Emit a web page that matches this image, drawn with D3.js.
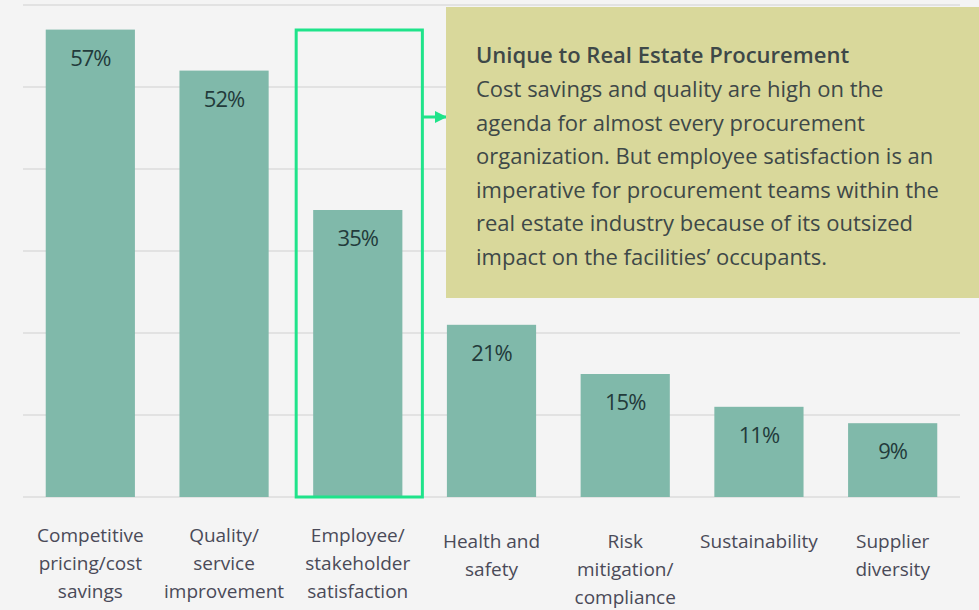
<!DOCTYPE html>
<html>
<head>
<meta charset="utf-8">
<script src="https://cdn.jsdelivr.net/npm/d3@7"></script>
<style>
  html, body { margin: 0; padding: 0; background: #f4f4f4; }
  svg { display: block; font-family: "Open Sans", Lato, sans-serif; }
</style>
</head>
<body>
<div id="chart-container"></div>
<script>
const categories = [
  ["Competitive", "pricing/cost", "savings"],
  ["Quality/", "service", "improvement"],
  ["Employee/", "stakeholder", "satisfaction"],
  ["Health and", "safety"],
  ["Risk", "mitigation/", "compliance"],
  ["Sustainability"],
  ["Supplier", "diversity"]
];
const values = [57, 52, 35, 21, 15, 11, 9];
const gridTicks = [0, 10, 20, 30, 40, 50, 60];
const highlightIndex = 2;
const noteTitle = "Unique to Real Estate Procurement";
const noteLines = [
  "Cost savings and quality are high on the",
  "agenda for almost every procurement",
  "organization. But employee satisfaction is an",
  "imperative for procurement teams within the",
  "real estate industry because of its outsized",
  "impact on the facilities\u2019 occupants."
];

const render = () => {
  const width = 979;
  const height = 610;
  const svg = d3.select("#chart-container").append("svg")
    .attr("width", width)
    .attr("height", height);

  svg.append("rect").attr("width", width).attr("height", height).attr("fill", "#f4f4f4");

  const x = d3.scaleBand()
    .domain(d3.range(values.length))
    .range([23, 960])
    .paddingInner(0.333)
    .paddingOuter(0.17);

  const y = d3.scaleLinear().domain([0, 60]).range([497, 5]);

  // grid
  svg.append("g")
    .selectAll("line")
    .data(gridTicks)
    .join("line")
    .attr("x1", 23)
    .attr("x2", 960)
    .attr("y1", (d) => y(d))
    .attr("y2", (d) => y(d))
    .attr("stroke", "#dddddd")
    .attr("stroke-width", 1.5);

  // bars
  svg.append("g")
    .selectAll("rect")
    .data(values)
    .join("rect")
    .attr("x", (d, i) => x(i))
    .attr("width", x.bandwidth())
    .attr("y", (d) => y(d))
    .attr("height", (d) => y(0) - y(d))
    .attr("fill", "#80b9aa");

  // value labels
  svg.append("g")
    .selectAll("text")
    .data(values)
    .join("text")
    .attr("x", (d, i) => x(i) + x.bandwidth() / 2)
    .attr("y", (d) => y(d) + 36)
    .attr("text-anchor", "middle")
    .attr("font-size", 22)
    .attr("letter-spacing", -1)
    .attr("fill", "#233b3b")
    .text((d) => d + "%");

  // category labels
  const cat = svg.append("g")
    .selectAll("text")
    .data(categories)
    .join("text")
    .attr("text-anchor", "middle")
    .attr("font-size", 19)
    .attr("fill", "#4a4a58")
    .attr("transform", (d, i) => `translate(${x(i) + x.bandwidth() / 2},${i < 3 ? 542 : 548})`);
  cat.selectAll("tspan")
    .data((d) => d)
    .join("tspan")
    .attr("x", 0)
    .attr("y", (d, j) => j * 28)
    .text((d) => d);

  // highlight box around one bar
  const hx0 = x(highlightIndex) - 17;
  const hx1 = x(highlightIndex) + x.bandwidth() + 20;
  svg.append("rect")
    .attr("x", hx0)
    .attr("y", 30)
    .attr("width", hx1 - hx0)
    .attr("height", y(0) - 30)
    .attr("fill", "none")
    .attr("stroke", "#1fe38a")
    .attr("stroke-width", 3);

  // arrow
  svg.append("defs").append("marker")
    .attr("id", "arr")
    .attr("viewBox", "0 0 10 10")
    .attr("refX", 10)
    .attr("refY", 5)
    .attr("markerWidth", 4)
    .attr("markerHeight", 4)
    .attr("orient", "auto")
    .append("path")
    .attr("d", "M0,0L10,5L0,10Z")
    .attr("fill", "#1fe38a");
  svg.append("line")
    .attr("x1", hx1)
    .attr("x2", 447)
    .attr("y1", 117)
    .attr("y2", 117)
    .attr("stroke", "#1fe38a")
    .attr("stroke-width", 3)
    .attr("marker-end", "url(#arr)");

  // annotation box
  svg.append("rect")
    .attr("x", 446)
    .attr("y", 7)
    .attr("width", width - 446)
    .attr("height", 291)
    .attr("fill", "#d9d89b");

  const note = svg.append("text")
    .attr("font-size", 22)
    .attr("fill", "#3e4848");
  note.append("tspan")
    .attr("x", 476)
    .attr("y", 63)
    .attr("font-weight", 600)
    .text(noteTitle);
  note.selectAll("tspan.l")
    .data(noteLines)
    .join("tspan")
    .attr("class", "l")
    .attr("x", 476)
    .attr("y", (d, i) => 97 + i * 33.5)
    .text((d) => d);
};

render();
</script>
</body>
</html>
